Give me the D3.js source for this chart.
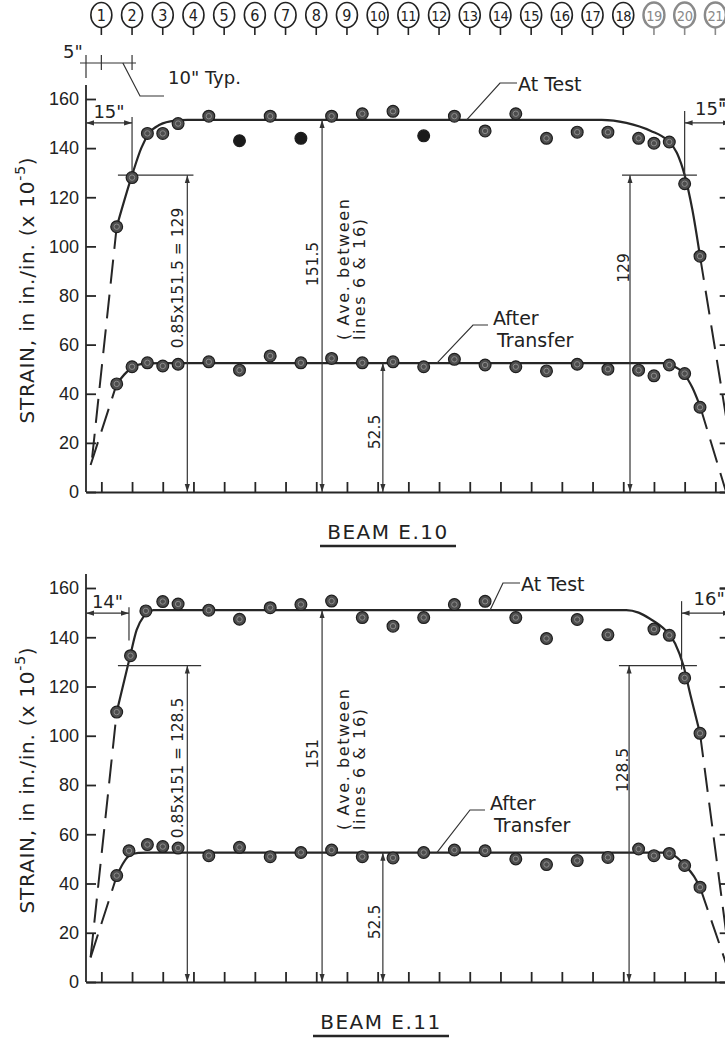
<!DOCTYPE html>
<meta charset="utf-8">
<head>
<style>
body { margin: 0; background: #fff; }
svg { display: block; font-family: "DejaVu Sans", sans-serif; fill: #222; }
.fit { fill: none; stroke: #262626; stroke-width: 2.2px; }
.ext { fill: none; stroke: #262626; stroke-width: 2px; stroke-dasharray: 24,11; }
.dim { fill: none; stroke: #333; stroke-width: 1.2px; }
.axis path, .axis line { stroke: #262626; stroke-width: 1.8px; }
.dot { fill: #4d4d4d; stroke: #1e1e1e; stroke-width: 1.2px; }
.ring { fill: none; stroke: #8c8c8c; stroke-width: 1px; }
</style>
<script src="https://cdn.jsdelivr.net/npm/d3@7"></script>
</head>
<body>
<div id="chart"></div>
<script>

// gauge lines along the beam (inches from beam end)
var gaugeNos = [1,2,3,4,5,6,7,8,9,10,11,12,13,14,15,16,17,18,19,20,21];
var gaugeInches = [5,15,25,35,45,55,65,75,85,95,105,115,125,135,145,155,165,175,185,195,205];
var strainTicks = [0,20,40,60,80,100,120,140,160];

// BEAM E.10 readings
var posE10 = [10,15,20,25,30,40,50,60,70,80,90,100,110,120,130,140,150,160,170,180,185,190,195,200];
var testE10 = [108,128,146,146,150,153,143,153,144,153,154,155,145,153,147,154,144,146.5,146.5,144,142,142.5,125.5,96];
var afterE10 = [44,51,52.6,51.3,52,53,49.6,55.4,52.6,54.4,52.6,53,51,54,51.7,51,49.3,52,50,49.6,47.3,51.7,48.2,34.5];
var blackE10 = [50,70,110];

// BEAM E.11 readings
var posE11test = [10,14.5,19.5,25,30,40,50,60,70,80,90,100,110,120,130,140,150,160,170,185,190,195,200];
var testE11 = [109.6,132.5,150.7,154.5,153.5,151,147.3,152,153.3,154.7,148,144.5,148,153.3,154.6,148,139.5,147.2,141,143.3,140.8,123.5,101];
var posE11after = [10,14,20,25,30,40,50,60,70,80,90,100,110,120,130,140,150,160,170,180,185,190,195,200];
var afterE11 = [43.2,53.3,55.8,55,54.4,51.3,54.7,50.9,52.6,53.6,50.9,50.4,52.6,53.6,53.3,50,47.7,49.3,50.6,54,51.3,52.2,47.3,38.5];

// faired curves, [inches, strain]
var fitTestE10 = [[10,108],[15,129],[18,140],[20.5,146],[24,149.5],[29,151.2],[33,151.5],[168,151.5],[176,150.3],[184,147],[189,143.5],[192.5,138],[195,129],[197.5,115],[200,96]];
var fitAfterE10 = [[10,44],[13,48.5],[16,51.5],[20,52.4],[25,52.5],[188,52.5],[191,51.5],[194.5,48.5],[197.5,42.5],[200,35]];
var dashTestE10 = [[[2,14],[10,108]], [[200,96],[210,19]]];
var dashAfterE10 = [[[1.5,11],[10,44]], [[200,35],[208.5,0]]];

var fitTestE11 = [[10,109.6],[14.3,132],[16.5,143],[18.7,148.3],[22,151],[176,151],[180,150],[183.7,147.5],[188.6,143],[191.9,137.5],[194.6,128.5],[196.8,117],[200,101]];
var fitAfterE11 = [[10,43],[12,48],[14,51.2],[17,52.4],[20,52.5],[189,52.5],[192,51],[195,47.5],[198,43],[200,38.5]];
var dashTestE11 = [[[1.5,10],[10,109.6]], [[200,101],[210,6]]];
var dashAfterE11 = [[[1.5,10],[10,43]], [[200,38.5],[210,2]]];

var W = 725, H = 1041;

var svg = d3.select("#chart").append("svg")
  .attr("width", W)
  .attr("height", H);

svg.append("rect").attr("width", W).attr("height", H).attr("fill", "#fff");

var defs = svg.append("defs");
defs.append("marker")
  .attr("id", "arr")
  .attr("viewBox", "0 0 10 10")
  .attr("refX", 10).attr("refY", 5)
  .attr("markerWidth", 8).attr("markerHeight", 8)
  .attr("markerUnits", "userSpaceOnUse")
  .attr("orient", "auto-start-reverse")
  .append("path").attr("d", "M0,1.8L10,5L0,8.2Z").attr("fill", "#333");

var x = d3.scaleLinear().domain([0, 210]).range([86, 86 + 210 * 3.07]);

////gauge numbers along the top
var gauges = svg.append("g");
gauges.selectAll("g")
  .data(gaugeNos)
  .enter().append("g")
  .attr("transform", function(d, i) { return "translate(" + x(gaugeInches[i]) + ",15)"; })
  .each(function(d) {
    var c = d3.select(this), col = d > 18 ? "#8a8a8a" : "#222";
    c.append("ellipse").attr("rx", 10.5).attr("ry", 12.5)
      .attr("fill", "#fff").attr("stroke", col).attr("stroke-width", d > 18 ? 2.4 : 1.6);
    c.append("line").attr("y1", 12.5).attr("y2", 20).attr("stroke", col).attr("stroke-width", 1.6);
    c.append("text").attr("text-anchor", "middle").attr("y", 6)
      .style("font-family", "'DejaVu Sans Condensed', 'DejaVu Sans'")
      .style("font-size", d > 9 ? "14.5px" : "16px").attr("fill", col)
      .style("letter-spacing", d > 9 ? "-0.5px" : "0px")
      .text(d);
  });

////top spacing dimension (5" and 10" Typ.)
var sp = svg.append("g");
sp.append("line").attr("class", "dim").attr("x1", 80).attr("x2", 136).attr("y1", 63).attr("y2", 63);
[0, 5, 15].forEach(function(v, i) {
  sp.append("line").attr("class", "dim")
    .attr("x1", x(v)).attr("x2", x(v))
    .attr("y1", 55).attr("y2", i == 0 ? 78 : 70);
});
sp.append("polyline").attr("class", "dim")
  .attr("points", [[x(12), 63], [140, 96], [164, 96]].join(" "));
sp.append("text").attr("x", 63).attr("y", 58).style("font-size", "18px").text("5\"");
sp.append("text").attr("x", 168).attr("y", 84).style("font-size", "18px").text("10\" Typ.");

function vtext(g, bx, cy, str, size, anchor) {
  return g.append("text")
    .attr("transform", "translate(" + bx + "," + cy + ") rotate(-90)")
    .attr("text-anchor", anchor || "middle")
    .style("font-size", size + "px")
    .text(str);
}

function drawPanel(p) {
  var y = d3.scaleLinear().domain([0, 160]).range([p.base, p.top]);
  var g = svg.append("g");

  var line = d3.line()
    .x(function(d) { return x(d[0]); })
    .y(function(d) { return y(d[1]); })
    .curve(d3.curveMonotoneX);
  var straight = d3.line()
    .x(function(d) { return x(d[0]); })
    .y(function(d) { return y(d[1]); });

  ////x axis with gauge ticks
  g.append("g").attr("class", "axis")
    .attr("transform", "translate(0," + p.base + ")")
    .call(d3.axisBottom(x).tickValues(gaugeInches).tickSize(-10).tickSizeOuter(0).tickFormat(""));

  ////left strain axis
  var ya = g.append("g").attr("class", "axis")
    .attr("transform", "translate(" + x(0) + ",0)")
    .call(d3.axisLeft(y).tickValues(strainTicks).tickSize(-10).tickSizeOuter(0).tickPadding(7));
  ya.select(".domain").remove();
  ya.selectAll("text").style("font-size", "18px").attr("fill", "#222");
  g.append("line").attr("class", "axis")
    .attr("x1", x(0)).attr("x2", x(0)).attr("y1", p.base).attr("y2", y(160) - 14)
    .attr("stroke", "#262626").attr("stroke-width", 1.8);

  ////right end ticks
  g.append("g").attr("class", "axis")
    .attr("transform", "translate(" + x(210) + ",0)")
    .call(d3.axisLeft(y).tickValues(strainTicks.slice(1)).tickSize(11).tickFormat(""));

  ////axis title
  var t = g.append("text")
    .attr("transform", "translate(34," + (p.base - 202) + ") rotate(-90)")
    .attr("text-anchor", "middle")
    .style("font-size", "20px")
    .style("letter-spacing", "0.8px");
  t.append("tspan").text("STRAIN, in  in./in. (x 10");
  t.append("tspan").attr("dy", -9).style("font-size", "14px").text("-5");
  t.append("tspan").attr("dy", 9).text(")");

  ////faired curves
  g.append("path").attr("class", "fit").attr("d", line(p.fitTest));
  g.append("path").attr("class", "fit").attr("d", line(p.fitAfter));
  p.dashTest.concat(p.dashAfter).forEach(function(seg) {
    g.append("path").attr("class", "ext").attr("d", straight(seg));
  });

  ////dimension lines
  var n = p.notes;
  var dimY = y(n.plateau) + 3;
  // left edge distance
  g.append("line").attr("class", "dim")
    .attr("x1", x(0)).attr("x2", x(n.edgeL)).attr("y1", dimY).attr("y2", dimY)
    .attr("marker-start", "url(#arr)").attr("marker-end", "url(#arr)");
  g.append("line").attr("class", "dim")
    .attr("x1", x(n.edgeL)).attr("x2", x(n.edgeL)).attr("y1", dimY - 6).attr("y2", y(n.cut) + (n.extL || 0));
  g.append("text").attr("x", x(n.edgeL / 2)).attr("y", dimY - 5)
    .attr("text-anchor", "middle").style("font-size", "18px").text(n.edgeL + "\"");
  // right edge distance
  g.append("line").attr("class", "dim")
    .attr("x1", x(210 - n.edgeR)).attr("x2", x(210)).attr("y1", dimY).attr("y2", dimY)
    .attr("marker-start", "url(#arr)").attr("marker-end", "url(#arr)");
  g.append("line").attr("class", "dim")
    .attr("x1", x(210 - n.edgeR)).attr("x2", x(210 - n.edgeR)).attr("y1", dimY - 12).attr("y2", y(n.cut) + 4);
  g.append("text").attr("x", x(210 - n.edgeR / 2) + 3).attr("y", dimY - 8)
    .attr("text-anchor", "middle").style("font-size", "18px").text(n.edgeR + "\"");

  // 0.85 lines
  g.append("line").attr("class", "dim")
    .attr("x1", x(10.4)).attr("x2", x(n.cutEndL)).attr("y1", y(n.cut)).attr("y2", y(n.cut));
  g.append("line").attr("class", "dim")
    .attr("x1", x(n.cutStartR)).attr("x2", x(199)).attr("y1", y(n.cut)).attr("y2", y(n.cut));

  function vdim(xi, v) {
    g.append("line").attr("class", "dim")
      .attr("x1", x(xi)).attr("x2", x(xi)).attr("y1", y(0)).attr("y2", y(v))
      .attr("marker-start", "url(#arr)").attr("marker-end", "url(#arr)");
  }
  vdim(33, n.cut);
  vdim(76.9, n.plateau);
  vdim(96.7, n.after);
  vdim(n.cutXR, n.cut);

  vtext(g, x(33) - 4, p.base - 214, n.cutLabel, 15.5);
  vtext(g, x(76.9) - 4, p.base - 228, n.platLabel, 15.5);
  vtext(g, 349, p.base - 152, "( Ave.  between", 16, "start").style("letter-spacing", "1.6px");
  vtext(g, 365, p.base - 152, "lines  6 & 16)", 16, "start").style("letter-spacing", "1.6px");
  vtext(g, x(96.7) - 3, p.base - 60, n.after.toFixed(1), 15.5);
  vtext(g, x(n.cutXR) - 1, p.base - n.cutRY, n.cutRLabel, 15.5);

  ////curve labels
  g.append("polyline").attr("class", "dim")
    .attr("points", [[x(n.testAt), y(n.plateau)], [n.testElbow[0], n.testElbow[1]], [n.testElbow[0] + 17, n.testElbow[1]]].join(" "));
  g.append("text").attr("x", n.testElbow[0] + 18).attr("y", n.testElbow[1] + 8)
    .style("font-size", "19px").text("At Test");
  g.append("polyline").attr("class", "dim")
    .attr("points", [[x(114.3), y(n.after)], [n.afterElbow[0], n.afterElbow[1]], [n.afterElbow[0] + 15, n.afterElbow[1]]].join(" "));
  g.append("text").attr("x", n.afterElbow[0] + 20).attr("y", n.afterElbow[1])
    .style("font-size", "19px").text("After");
  g.append("text").attr("x", n.afterElbow[0] + 24).attr("y", n.afterElbow[1] + 22)
    .style("font-size", "19px").text("Transfer");

  ////readings
  function dots(pos, vals, black) {
    var d = g.append("g").selectAll("g")
      .data(vals)
      .enter().append("g")
      .attr("transform", function(v, i) { return "translate(" + x(pos[i]) + "," + y(v) + ")"; });
    d.append("circle").attr("class", "dot").attr("r", 5.9)
      .style("fill", function(v, i) { return black.indexOf(pos[i]) >= 0 ? "#1a1a1a" : null; });
    d.filter(function(v, i) { return black.indexOf(pos[i]) < 0; })
      .append("circle").attr("class", "ring").attr("r", 2.7);
  }
  dots(p.posTest, p.test, p.black);
  dots(p.posAfter, p.after, []);

  ////title
  g.append("text").attr("x", p.titleX).attr("y", p.base + 47)
    .attr("text-anchor", "middle").style("font-size", "20px").style("letter-spacing", "1.5px")
    .text(p.title);
  g.append("line").attr("x1", p.titleX - 68).attr("x2", p.titleX + 68)
    .attr("y1", p.base + 54).attr("y2", p.base + 54)
    .attr("stroke", "#262626").attr("stroke-width", 2.6);
}

drawPanel({
  base: 492, top: 99, title: "BEAM E.10", titleX: 388,
  posTest: posE10, test: testE10, posAfter: posE10, after: afterE10, black: blackE10,
  fitTest: fitTestE10, fitAfter: fitAfterE10, dashTest: dashTestE10, dashAfter: dashAfterE10,
  notes: {edgeL: 15, edgeR: 15, plateau: 151.5, cut: 129, after: 52.5, cutEndL: 35, cutStartR: 174.6, cutXR: 177.2,
    cutLabel: "0.85x151.5 = 129", platLabel: "151.5", cutRLabel: "129", cutRY: 224,
    testAt: 124, testElbow: [500, 83], afterElbow: [473, 325]}
});

drawPanel({
  base: 982, top: 588, title: "BEAM E.11", titleX: 381,
  posTest: posE11test, test: testE11, posAfter: posE11after, after: afterE11, black: [],
  fitTest: fitTestE11, fitAfter: fitAfterE11, dashTest: dashTestE11, dashAfter: dashAfterE11,
  notes: {edgeL: 14, edgeR: 16, plateau: 151, cut: 128.5, after: 52.5, cutEndL: 37.5, cutStartR: 173.6, cutXR: 176.9,
    cutLabel: "0.85x151 = 128.5", platLabel: "151", cutRLabel: "128.5", cutRY: 212, extL: -25,
    testAt: 131.6, testElbow: [503, 583], afterElbow: [470, 810]}
});

</script>
</body>
</html>
